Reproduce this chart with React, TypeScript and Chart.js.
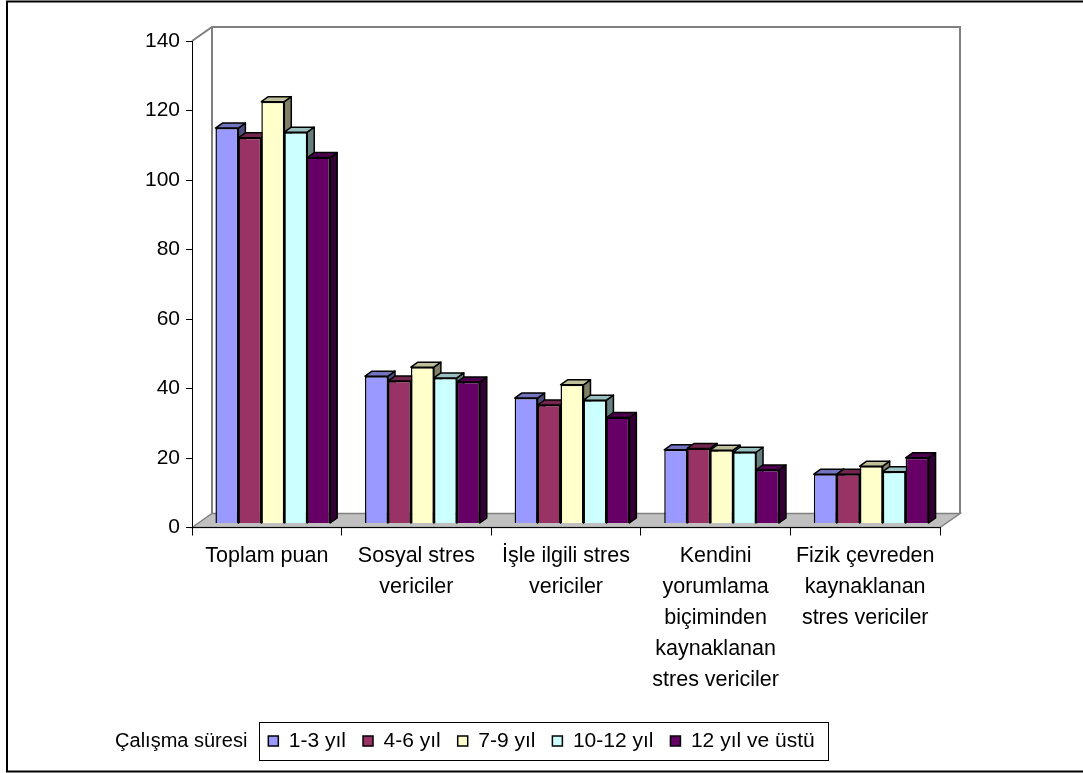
import React, { useEffect, useRef } from "react";
import { Chart, registerables } from "chart.js";

Chart.register(...registerables);

// ---- data ----
const categories: string[][] = [
  ["Toplam puan"],
  ["Sosyal stres", "vericiler"],
  ["İşle ilgili stres", "vericiler"],
  ["Kendini", "yorumlama", "biçiminden", "kaynaklanan", "stres vericiler"],
  ["Fizik çevreden", "kaynaklanan", "stres vericiler"],
];
const seriesNames = ["1-3 yıl", "4-6 yıl", "7-9 yıl", "10-12 yıl", "12 yıl ve üstü"];
const series1 = [113.8, 42.4, 36.1, 21.2, 14.2];
const series2 = [111.0, 41.0, 34.1, 21.6, 14.2];
const series3 = [121.4, 45.0, 39.9, 21.1, 16.5];
const series4 = [112.6, 41.9, 35.5, 20.5, 14.9];
const series5 = [105.3, 40.7, 30.5, 15.4, 18.9];
const seriesColors = ["#9999FF", "#993366", "#FFFFCC", "#CCFFFF", "#660066"];
const yMin = 0;
const yMax = 140;
const yStep = 20;
const legendTitle = "Çalışma süresi";

const FONT = "'Liberation Sans', Arial, sans-serif";

function shade(hex: string, f: number): string {
  const n = parseInt(hex.slice(1), 16);
  const r = Math.round(((n >> 16) & 255) * f);
  const g = Math.round(((n >> 8) & 255) * f);
  const b = Math.round((n & 255) * f);
  return `rgb(${r},${g},${b})`;
}

const WALL_DX = 20;
const WALL_DY = -14;
const BAR_SHIFT_X = 6;
const BAR_SHIFT_Y = -4;
const BAR_DEPTH_X = 7;
const BAR_DEPTH_Y = -5;

const scenePlugin = {
  id: "scene3d",
  beforeDraw(chart: any) {
    const { ctx, chartArea: a } = chart;
    ctx.save();
    ctx.fillStyle = "#fff";
    ctx.fillRect(0, 0, chart.width, chart.height);
    // floor
    ctx.beginPath();
    ctx.moveTo(a.left, a.bottom);
    ctx.lineTo(a.left + WALL_DX, a.bottom + WALL_DY);
    ctx.lineTo(a.right + WALL_DX, a.bottom + WALL_DY);
    ctx.lineTo(a.right, a.bottom);
    ctx.closePath();
    ctx.fillStyle = "#c0c0c0";
    ctx.fill();
    ctx.strokeStyle = "#808080";
    ctx.lineWidth = 1.5;
    ctx.stroke();
    // walls
    ctx.lineWidth = 2;
    ctx.strokeStyle = "#808080";
    ctx.beginPath();
    ctx.moveTo(a.left, a.top);
    ctx.lineTo(a.left + WALL_DX, a.top + WALL_DY);
    ctx.lineTo(a.right + WALL_DX, a.top + WALL_DY);
    ctx.lineTo(a.right + WALL_DX, a.bottom + WALL_DY);
    ctx.moveTo(a.left + WALL_DX, a.top + WALL_DY);
    ctx.lineTo(a.left + WALL_DX, a.bottom + WALL_DY);
    ctx.stroke();
    ctx.restore();
  },
  beforeDatasetDraw() {
    // datasets are drawn below in left-to-right order for correct 3D overlap
    return false;
  },
  afterDatasetsDraw(chart: any) {
    const { ctx } = chart;
    ctx.save();
    ctx.translate(BAR_SHIFT_X, BAR_SHIFT_Y);
    const n = chart.data.datasets.length;
    for (let i = 0; i < n; i++) {
      const meta = chart.getDatasetMeta(i);
      const color = seriesColors[i];
      for (const el of meta.data) {
        el.draw(ctx);
        const { x, y, base, width } = el.getProps(["x", "y", "base", "width"], true);
        const l = x - width / 2;
        const r = x + width / 2;
        const t = Math.min(y, base);
        const b = Math.max(y, base);
        ctx.save();
        ctx.lineWidth = 1.5;
        ctx.strokeStyle = "#000";
        ctx.lineJoin = "round";
        // side face
        ctx.beginPath();
        ctx.moveTo(r, t);
        ctx.lineTo(r + BAR_DEPTH_X, t + BAR_DEPTH_Y);
        ctx.lineTo(r + BAR_DEPTH_X, b + BAR_DEPTH_Y);
        ctx.lineTo(r, b);
        ctx.closePath();
        ctx.fillStyle = shade(color, 0.5);
        ctx.fill();
        ctx.stroke();
        // top face
        ctx.beginPath();
        ctx.moveTo(l, t);
        ctx.lineTo(l + BAR_DEPTH_X, t + BAR_DEPTH_Y);
        ctx.lineTo(r + BAR_DEPTH_X, t + BAR_DEPTH_Y);
        ctx.lineTo(r, t);
        ctx.closePath();
        ctx.fillStyle = shade(color, 0.75);
        ctx.fill();
        ctx.stroke();
        ctx.restore();
      }
    }
    ctx.restore();
  },
  afterDraw(chart: any) {
    const { ctx } = chart;
    const boxes = chart.legend && chart.legend.legendHitBoxes;
    ctx.save();
    if (boxes && boxes.length) {
      const first = boxes[0];
      const last = boxes[boxes.length - 1];
      const cy = first.top + first.height / 2;
      const left = first.left - 9;
      const right = last.left + last.width + 14;
      const top = cy - 19;
      const bottom = cy + 19;
      ctx.strokeStyle = "#000";
      ctx.lineWidth = 1;
      ctx.strokeRect(Math.round(left) + 0.5, Math.round(top) + 0.5, Math.round(right - left), Math.round(bottom - top));
      ctx.fillStyle = "#000";
      ctx.font = `20px ${FONT}`;
      ctx.textAlign = "right";
      ctx.textBaseline = "middle";
      ctx.fillText(legendTitle, left - 12, cy);
    }
    // outer frame
    ctx.strokeStyle = "#000";
    ctx.lineWidth = 2;
    ctx.strokeRect(7, 1.5, chart.width + 20, chart.height - 3);
    ctx.restore();
  },
};

export default function App() {
  const ref = useRef<HTMLCanvasElement>(null);
  useEffect(() => {
    document.body.style.margin = "0";
    const allSeries = [series1, series2, series3, series4, series5];
    const chart = new Chart(ref.current!, {
      type: "bar",
      data: {
        labels: categories,
        datasets: allSeries.map((d, i) => ({
          label: seriesNames[i],
          data: d,
          backgroundColor: seriesColors[i],
          borderColor: "#000",
          borderWidth: 1.5,
          categoryPercentage: 0.767,
          barPercentage: 1,
        })),
      },
      options: {
        responsive: false,
        animation: false,
        devicePixelRatio: 1,
        layout: { padding: { top: 41, bottom: 11.5, left: 0, right: 0 } },
        plugins: {
          tooltip: { enabled: false },
          legend: {
            position: "bottom",
            labels: {
              boxWidth: 10,
              boxHeight: 10,
              padding: 17,
              color: "#000",
              font: { family: FONT, size: 21 },
            },
          },
        },
        scales: {
          x: {
            type: "category",
            grid: { offset: true, drawOnChartArea: false, drawTicks: true, tickLength: 8, color: "#000" },
            border: { display: true, color: "#000", width: 1 },
            ticks: {
              color: "#000",
              font: { family: FONT, size: 21.5, lineHeight: 1.44 },
              maxRotation: 0,
              minRotation: 0,
              autoSkip: false,
              padding: 5,
            },
            afterFit: (s: any) => {
              s.height = 186;
            },
          },
          y: {
            type: "linear",
            position: "left",
            min: yMin,
            max: yMax,
            grid: { drawOnChartArea: false, drawTicks: true, tickLength: 6, color: "#000" },
            border: { display: true, color: "#000", width: 1 },
            ticks: { stepSize: yStep, color: "#000", font: { family: FONT, size: 21 }, padding: 6 },
            afterFit: (s: any) => {
              s.width = 192;
            },
          },
          yR: {
            type: "linear",
            position: "right",
            display: true,
            grid: { display: false },
            border: { display: false },
            ticks: { display: false },
            afterFit: (s: any) => {
              s.width = 143;
            },
          },
        },
      },
      plugins: [scenePlugin],
    });
    return () => chart.destroy();
  }, []);
  return (
    <div style={{ position: "absolute", left: 0, top: 0, width: 1083, height: 773 }}>
      <canvas ref={ref} width={1083} height={773} />
    </div>
  );
}
